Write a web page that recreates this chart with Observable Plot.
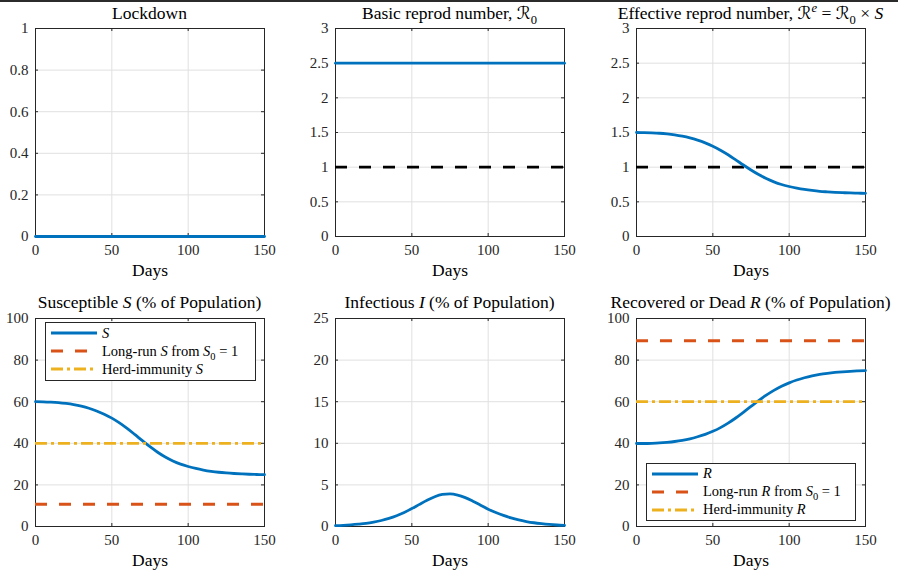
<!DOCTYPE html>
<html>
<head>
<meta charset="utf-8">
<script src="https://cdn.jsdelivr.net/npm/d3@7"></script>
<script src="https://cdn.jsdelivr.net/npm/@observablehq/plot@0.6"></script>
<style>
  body { margin: 0; background: #fff; }
  #wrap { position: relative; width: 898px; height: 570px; overflow: hidden; background: #fff;
          font-family: 'Liberation Serif', 'DejaVu Serif', 'DejaVu Sans', serif; color: #000; }
  #topline { position: absolute; left: 0; top: 0; width: 898px; height: 2px; background: #2b2b2b; }
  .panel { position: absolute; }
  .title { position: absolute; font-size: 17.5px; line-height: 1; white-space: nowrap; transform: translateX(-50%); color: #000; }
  sub, sup { line-height: 0; font-size: 0.72em; }
  .legend { position: absolute; box-sizing: border-box; border: 1px solid #262626; background: #fff;
            font-size: 14.5px; padding: 1.3px 0; }
  .row { display: flex; align-items: center; height: 18px; white-space: nowrap; }
  .row svg { flex: none; }
</style>
</head>
<body>
<div id="wrap"><div id="topline"></div></div>
<script>
// ---------------- data ----------------
const days = [0,5,10,15,20,25,30,35,40,45,50,55,60,65,70,75,80,85,90,95,100,105,110,115,120,125,130,135,140,145,150];
const constDays = [0, 150];
const lockdown = [0, 0];
const basicR0 = [2.5, 2.5];
const effectiveR = [1.500,1.499,1.495,1.489,1.479,1.465,1.446,1.421,1.389,1.350,1.303,1.245,1.179,1.106,1.031,0.959,0.893,0.835,0.788,0.750,0.721,0.698,0.679,0.664,0.652,0.644,0.637,0.632,0.628,0.625,0.623];
const susceptible = [60.0,59.95,59.8,59.55,59.15,58.6,57.85,56.85,55.55,54.0,52.1,49.8,47.15,44.25,41.25,38.35,35.7,33.4,31.5,30.0,28.85,27.9,27.15,26.55,26.08,25.75,25.49,25.29,25.13,25.0,24.9];
const infectious = [0.1,0.14,0.2,0.28,0.38,0.53,0.72,0.97,1.29,1.69,2.15,2.66,3.15,3.58,3.85,3.92,3.78,3.47,3.04,2.56,2.08,1.68,1.33,1.03,0.79,0.6,0.45,0.34,0.25,0.18,0.13];
const recovered = [39.9,39.91,40.0,40.17,40.47,40.87,41.43,42.18,43.16,44.31,45.75,47.54,49.7,52.17,54.9,57.73,60.52,63.13,65.46,67.44,69.07,70.42,71.52,72.42,73.13,73.65,74.06,74.37,74.62,74.82,74.97];
const thresholdR = 1;
const longRunS = 10.7;
const herdS = 40;
const longRunR = 89.3;
const herdR = 60;
const xTicks = [0, 50, 100, 150];
const yTicksUnit = [0, 0.2, 0.4, 0.6, 0.8, 1];
const yTicksR = [0, 0.5, 1, 1.5, 2, 2.5, 3];
const yTicksPct = [0, 20, 40, 60, 80, 100];
const yTicksI = [0, 5, 10, 15, 20, 25];
const titles = [
  "Lockdown",
  "Basic reprod number, ℛ<sub>0</sub>",
  "Effective reprod number, ℛ<sup><i>e</i></sup> = ℛ<sub>0</sub> × <i>S</i>",
  "Susceptible <i>S</i> (% of Population)",
  "Infectious <i>I</i> (% of Population)",
  "Recovered or Dead <i>R</i> (% of Population)"
];
const legendS = ["<i>S</i>", "Long-run <i>S</i> from <i>S</i><sub>0</sub> = 1", "Herd-immunity <i>S</i>"];
const legendR = ["<i>R</i>", "Long-run <i>R</i> from <i>S</i><sub>0</sub> = 1", "Herd-immunity <i>R</i>"];

// ---------------- style ----------------
const FONT = "'Liberation Serif', 'DejaVu Serif', serif";
const BLUE = "#0072BD", RED = "#D95319", YELLOW = "#EDB120", AX = "#262626", GRID = "#e0e0e0";
const LW = 2.8;
const DASH = "12,12";
const DASHDOT = "12,4,3,4";

const series = (xs, ys) => xs.map((x, i) => ({x, y: ys[i]}));
const fmt = d => String(d);

const wrap = document.getElementById("wrap");

function panel({left, top, height, ml, mr, mb, yDomain, yTicks, marks, title, titleBase}) {
  const W = 300, mt = 28;
  const innerW = W - ml - mr, innerH = height - mt - mb, tk = 3;
  const svg = Plot.plot({
    width: W, height,
    marginLeft: ml, marginRight: mr, marginTop: mt, marginBottom: mb,
    style: {fontFamily: FONT, fontSize: "15px", color: AX, background: "transparent", overflow: "visible"},
    x: {domain: [0, 150]},
    y: {domain: yDomain},
    marks: [
      Plot.gridX(xTicks, {stroke: GRID, strokeOpacity: 1}),
      Plot.gridY(yTicks, {stroke: GRID, strokeOpacity: 1}),
      Plot.frame({stroke: AX}),
      Plot.tickX(xTicks, {x: d => d, insetTop: innerH - tk, stroke: AX}),
      Plot.tickX(xTicks, {x: d => d, insetBottom: innerH - tk, stroke: AX}),
      Plot.tickY(yTicks, {y: d => d, insetRight: innerW - tk, stroke: AX}),
      Plot.tickY(yTicks, {y: d => d, insetLeft: innerW - tk, stroke: AX}),
      Plot.axisX(xTicks, {tickSize: 0, tickPadding: 8, label: null, fill: AX, tickFormat: fmt}),
      Plot.axisY(yTicks, {tickSize: 0, tickPadding: 7, label: null, fill: AX, tickFormat: fmt}),
      Plot.text(["Days"], {frameAnchor: "bottom", dy: 39, lineAnchor: "bottom", fontSize: 17.5, fill: "#000"}),
      ...marks
    ]
  });
  svg.classList.add("panel");
  svg.style.left = left + "px";
  svg.style.top = top + "px";
  wrap.appendChild(svg);
  const t = document.createElement("div");
  t.className = "title";
  t.innerHTML = title;
  t.style.left = (left + ml + innerW / 2) + "px";
  t.style.top = (titleBase - 14.66) + "px";
  wrap.appendChild(t);
}

const curve = (xs, ys) => Plot.line(series(xs, ys), {x: "x", y: "y", stroke: BLUE, strokeWidth: LW, curve: "monotone-x"});
const hline = (v, stroke, dash) => Plot.ruleY([v], {stroke, strokeWidth: LW, strokeDasharray: dash});

panel({left: 0, top: 0, height: 290, ml: 35, mr: 36, mb: 54, yDomain: [0, 1], yTicks: yTicksUnit, titleBase: 19.5,
  title: titles[0], marks: [curve(constDays, lockdown)]});
panel({left: 300, top: 0, height: 290, ml: 35, mr: 36, mb: 54, yDomain: [0, 3], yTicks: yTicksR, titleBase: 19.5,
  title: titles[1], marks: [curve(constDays, basicR0), hline(thresholdR, "#000", DASH)]});
panel({left: 598, top: 0, height: 290, ml: 38, mr: 33, mb: 54, yDomain: [0, 3], yTicks: yTicksR, titleBase: 19.5,
  title: titles[2], marks: [hline(thresholdR, "#000", DASH), curve(days, effectiveR)]});
panel({left: 0, top: 290, height: 280, ml: 35, mr: 36, mb: 44, yDomain: [0, 100], yTicks: yTicksPct, titleBase: 309,
  title: titles[3], marks: [curve(days, susceptible), hline(longRunS, RED, DASH), hline(herdS, YELLOW, DASHDOT)]});
panel({left: 300, top: 290, height: 280, ml: 35, mr: 36, mb: 44, yDomain: [0, 25], yTicks: yTicksI, titleBase: 309,
  title: titles[4], marks: [curve(days, infectious)]});
panel({left: 598, top: 290, height: 280, ml: 38, mr: 33, mb: 44, yDomain: [0, 100], yTicks: yTicksPct, titleBase: 309,
  title: titles[5], marks: [curve(days, recovered), hline(longRunR, RED, DASH), hline(herdR, YELLOW, DASHDOT)]});

function legend(labels, left, top, width, lineLeft) {
  const box = document.createElement("div");
  box.className = "legend";
  box.style.left = left + "px";
  box.style.top = top + "px";
  box.style.width = width + "px";
  const styles = [[BLUE, null], [RED, DASH], [YELLOW, DASHDOT]];
  labels.forEach((lab, i) => {
    const row = document.createElement("div");
    row.className = "row";
    const [c, d] = styles[i];
    row.innerHTML = `<svg width="46" height="18" style="margin-left:${lineLeft}px;margin-right:5px">` +
      `<line x1="0" y1="9" x2="46" y2="9" stroke="${c}" stroke-width="${LW}"${d ? ` stroke-dasharray="${d}"` : ""}/></svg>` +
      `<span>${lab}</span>`;
    box.appendChild(row);
  });
  wrap.appendChild(box);
}
legend(legendS, 45, 322, 211, 5);
legend(legendR, 646, 462.5, 210, 5);
</script>
</body>
</html>
